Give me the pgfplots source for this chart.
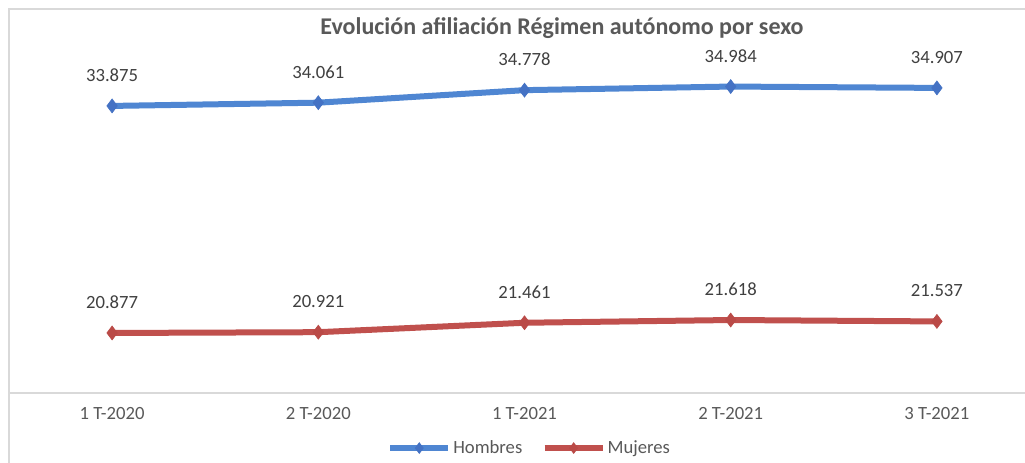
\documentclass[border=0pt]{standalone}
\usepackage{pgfplots}
\pgfplotsset{compat=1.18}
\usepackage{fontspec}
\setmainfont{Carlito}
\definecolor{hblue}{HTML}{4F86D2}
\definecolor{hbluem}{HTML}{4472C4}
\definecolor{mred}{HTML}{C0504D}
\definecolor{mredm}{HTML}{BA4A47}
\definecolor{txtgray}{HTML}{595959}
\definecolor{lblgray}{HTML}{404040}
\definecolor{framegray}{HTML}{D9D9D9}
\begin{document}
\begin{tikzpicture}
\clip (0,0) rectangle (768.75pt,347.25pt);
\fill[white] (0,0) rectangle (768.75pt,347.25pt);
\draw[framegray, line width=1.5pt] (6.75pt,-20pt) rectangle (820pt,340.5pt);
\begin{axis}[
  at={(6.75pt,52.5pt)}, anchor=south west,
  scale only axis, width=773.25pt, height=264.75pt,
  xmin=-0.5, xmax=4.5, ymin=17.44, ymax=37.65,
  axis x line*=bottom, axis y line=none,
  x axis line style={-, draw=framegray, line width=1.5pt},
  xtick={0,1,2,3,4},
  xticklabels={1 T-2020,2 T-2020,1 T-2021,2 T-2021,3 T-2021},
  major tick length=0pt,
  xticklabel style={font=\fontsize{14pt}{16pt}\selectfont, text=txtgray, anchor=center, yshift=-15.75pt},
  clip=false,
  point meta=explicit symbolic,
  nodes near coords,
  nodes near coords style={font=\fontsize{14pt}{16pt}\selectfont, text=lblgray, anchor=center, yshift=23pt},
  legend style={at={(0.505,-0.156)}, anchor=center, draw=none, fill=none,
    legend columns=2, font=\fontsize{14pt}{16pt}\selectfont, text=txtgray,
    /tikz/every even column/.append style={column sep=13pt},
    inner sep=0pt, nodes={inner sep=1.5pt}},
  legend image code/.code={\draw[#1, mark repeat=2, mark phase=2, mark size=4pt] plot coordinates {(0pt,0pt) (21.75pt,0pt) (43.5pt,0pt)};},
]
\addplot[hblue, line width=4.5pt, mark=diamond*, mark size=5.2pt,
  mark options={fill=hbluem, draw=hbluem, line width=0.5pt}]
  coordinates {(0,33.875)[33.875] (1,34.061)[34.061] (2,34.778)[34.778] (3,34.984)[34.984] (4,34.907)[34.907]};
\addlegendentry{Hombres}
\addplot[mred, line width=4.5pt, mark=diamond*, mark size=5.2pt,
  mark options={fill=mredm, draw=mredm, line width=0.5pt}]
  coordinates {(0,20.877)[20.877] (1,20.921)[20.921] (2,21.461)[21.461] (3,21.618)[21.618] (4,21.537)[21.537]};
\addlegendentry{Mujeres}
\end{axis}
\node[font=\bfseries\fontsize{18pt}{21pt}\selectfont, text=txtgray] at (421.5pt,326.25pt) {Evolución afiliación Régimen autónomo por sexo};
\end{tikzpicture}
\end{document}
